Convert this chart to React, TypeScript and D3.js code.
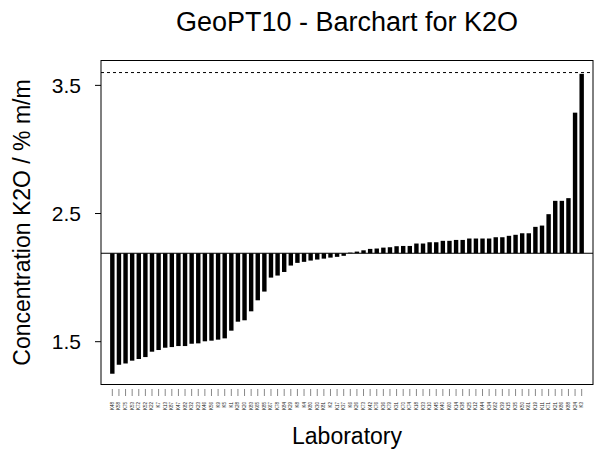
import React from "react";
import * as d3 from "d3";

const labs = ["K48","K58","K75","K53","K72","K52","K22","K7","K13","K87","K47","K82","K32","K23","K46","K56","K9","K5","K1","K28","K20","K83","K65","K85","K67","K78","K84","K29","K8","K4","K80","K30","K81","K2","K17","K37","K6","K26","K73","K42","K76","K36","K79","K31","K70","K74","K18","K33","K10","K45","K40","K60","K14","K38","K25","K12","K44","K34","K62","K39","K15","K35","K50","K61","K19","K11","K71","K21","K86","K88","K24","K3"];

const values = [1.25,1.32,1.33,1.352,1.365,1.38,1.422,1.435,1.453,1.458,1.466,1.466,1.484,1.487,1.503,1.508,1.516,1.526,1.586,1.656,1.667,1.737,1.823,1.891,2.0,2.016,2.044,2.094,2.115,2.123,2.133,2.141,2.148,2.156,2.162,2.17,2.195,2.203,2.213,2.224,2.227,2.234,2.237,2.245,2.247,2.247,2.266,2.266,2.276,2.276,2.287,2.287,2.294,2.294,2.305,2.305,2.305,2.305,2.315,2.315,2.326,2.334,2.346,2.346,2.396,2.406,2.495,2.599,2.599,2.62,3.287,3.59];

const assigned = 2.19;
const upperLine = 3.6;
const yTicks = [1.5, 2.5, 3.5];
const yDomain = [1.166, 3.694];

const W = 597, H = 450;
const box = { l: 101, r: 593, t: 60.5, b: 384.5 };
const font = "'Liberation Sans', Arial, sans-serif";

export default function App() {
  const x = d3.scaleBand<string>().domain(labs).range([box.l, box.r]).paddingInner(1 / 3).paddingOuter(1.38);
  const y = d3.scaleLinear().domain(yDomain).range([box.b, box.t]);
  const bw = x.bandwidth();
  return (
    <svg width={W} height={H} style={{ position: "absolute", left: 0, top: 0, background: "#fff" }}>
      <rect x={0} y={0} width={W} height={H} fill="#fff" />
      {values.map((v, i) => {
        const y0 = y(assigned), y1 = y(v);
        return <rect key={i} x={x(labs[i])} y={Math.min(y0, y1)} width={bw} height={Math.abs(y1 - y0)} fill="#000" />;
      })}
      <line x1={box.l} x2={box.r} y1={y(assigned)} y2={y(assigned)} stroke="#000" strokeWidth={1} />
      <line x1={box.l} x2={box.r} y1={y(upperLine)} y2={y(upperLine)} stroke="#000" strokeWidth={1} strokeDasharray="3,3" />
      <rect x={box.l} y={box.t} width={box.r - box.l} height={box.b - box.t} fill="none" stroke="#000" strokeWidth={1} />
      {yTicks.map((t) => (
        <g key={t}>
          <line x1={box.l} x2={box.l - 6} y1={y(t)} y2={y(t)} stroke="#000" />
          <text x={box.l - 20} y={y(t)} dy="0.36em" textAnchor="end" fontFamily={font} fontSize={21}>{t.toFixed(1)}</text>
        </g>
      ))}
      {labs.map((l) => {
        const cx = (x(l) as number) + bw / 2;
        return (
          <g key={l}>
            <line x1={cx} x2={cx} y1={389} y2={396} stroke="#888" strokeWidth={1} />
            <text transform={`translate(${cx + 1.5},402) rotate(-90)`} textAnchor="end" fontFamily={font} fontSize={4.5} fill="#222">{l}</text>
          </g>
        );
      })}
      <text x={(box.l + box.r) / 2} y={31} textAnchor="middle" fontFamily={font} fontSize={27}>GeoPT10 - Barchart for K2O</text>
      <text x={(box.l + box.r) / 2} y={444} textAnchor="middle" fontFamily={font} fontSize={23}>Laboratory</text>
      <text transform={`translate(30,${(box.t + box.b) / 2}) rotate(-90)`} textAnchor="middle" fontFamily={font} fontSize={23}>Concentration K2O / % m/m</text>
    </svg>
  );
}
